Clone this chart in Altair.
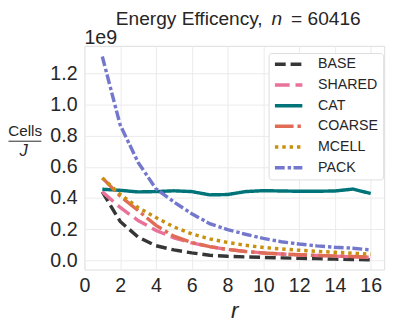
import altair as alt
import pandas as pd

r = list(range(1, 17))
series_names = ["BASE", "SHARED", "CAT", "COARSE", "MCELL", "PACK"]
base = [0.44, 0.25, 0.15, 0.094, 0.067, 0.048, 0.033, 0.026, 0.022, 0.019, 0.016, 0.013, 0.011, 0.008, 0.006, 0.004]
shared = [0.44, 0.34, 0.256, 0.193, 0.145, 0.112, 0.088, 0.07, 0.058, 0.048, 0.041, 0.035, 0.031, 0.027, 0.023, 0.02]
cat = [0.457, 0.45, 0.44, 0.442, 0.447, 0.442, 0.421, 0.423, 0.442, 0.448, 0.446, 0.444, 0.444, 0.446, 0.458, 0.43]
coarse = [0.53, 0.413, 0.32, 0.225, 0.155, 0.115, 0.088, 0.07, 0.057, 0.047, 0.041, 0.036, 0.032, 0.029, 0.025, 0.021]
mcell = [0.53, 0.424, 0.34, 0.275, 0.215, 0.17, 0.138, 0.115, 0.097, 0.083, 0.073, 0.065, 0.058, 0.052, 0.046, 0.04]
pack = [1.31, 0.87, 0.63, 0.46, 0.375, 0.3, 0.236, 0.198, 0.168, 0.141, 0.12, 0.105, 0.093, 0.084, 0.078, 0.067]
colors = ["#363636", "#e8729a", "#007478", "#e06c55", "#c8900e", "#7478cc"]
dashes = [[11, 5], [15, 6], [1, 0], [19, 4, 3.5, 4], [3.5, 4], [10, 3, 3.5, 2.5]]
x_ticks = [0, 2, 4, 6, 8, 10, 12, 14, 16]
y_ticks = [0.0, 0.2, 0.4, 0.6, 0.8, 1.0, 1.2]

rows = []
for name, vals in zip(series_names, [base, shared, cat, coarse, mcell, pack]):
    for xi, v in zip(r, vals):
        rows.append({"r": xi, "value": v, "series": name})
df = pd.DataFrame(rows)

W, H = 306, 228.4
FONT = "Liberation Sans"

legend = alt.Legend(
    title=None, orient="none", legendX=188, legendY=7.4,
    symbolType="stroke", symbolSize=784, symbolStrokeWidth=3.5,
    labelFontSize=14.5, labelOffset=14, labelFont=FONT, labelColor="#262626",
    padding=4.5, clipHeight=14, rowPadding=6.1,
    fillColor="white", strokeColor="#dddddd", cornerRadius=3,
)

lines = alt.Chart(df).mark_line(strokeWidth=3.5).encode(
    x=alt.X("r:Q", scale=alt.Scale(domain=[0, 16.75], nice=False, zero=False),
            axis=alt.Axis(values=x_ticks, title="r", titleFontStyle="italic",
                          titleFontWeight="normal", titleFontSize=23, titlePadding=5,
                          labelFontSize=20, labelPadding=6, tickSize=0, domain=False,
                          labelFlush=False, labelOverlap=False,
                          gridColor="#ebebeb", labelColor="#262626", titleColor="#262626")),
    y=alt.Y("value:Q", scale=alt.Scale(domain=[-0.059, 1.379], nice=False, zero=False),
            axis=alt.Axis(values=y_ticks, format=".1f", title=None,
                          labelFontSize=20, labelPadding=7.5, tickSize=0, domain=False,
                          labelFlush=False, labelOverlap=False,
                          gridColor="#ebebeb", labelColor="#262626")),
    color=alt.Color("series:N", scale=alt.Scale(domain=series_names, range=colors), legend=legend),
    strokeDash=alt.StrokeDash("series:N", scale=alt.Scale(domain=series_names, range=dashes), legend=legend),
)

one = pd.DataFrame({"a": [0]})

def label(text, x, y, size, align="left", style="normal"):
    return alt.Chart(one).mark_text(
        text=text, align=align, baseline="alphabetic", fontSize=size,
        fontStyle=style, font=FONT, color="#262626",
    ).encode(x=alt.value(x), y=alt.value(y))

TY = -21
t1 = label("Energy Efficency,", 182, TY, 19.5, align="right")
t2 = label("n", 191, TY, 19.5, style="italic")
t3 = label("= 60416", 211, TY, 19.5)
off = label("1e9", 0, -2.3, 20)
cells = label("Cells", -60.5, 92.4, 15.5, align="center")
jlab = label("J", -62, 112.7, 17, align="center", style="italic")
frac = alt.Chart(one).mark_rule(color="#262626", strokeWidth=1).encode(
    x=alt.value(-77.5), x2=alt.value(-44), y=alt.value(97.4))

chart = alt.layer(lines, t1, t2, t3, off, cells, jlab, frac).properties(
    width=W, height=H,
    autosize=alt.AutoSizeParams(type="none"),
    padding={"left": 78, "top": 35.3, "right": 7, "bottom": 53},
    background="white",
).configure_view(stroke="#dedede", strokeWidth=1.2).configure(font=FONT)

chart.save("out.html", embed_options={"renderer": "svg", "actions": False})
